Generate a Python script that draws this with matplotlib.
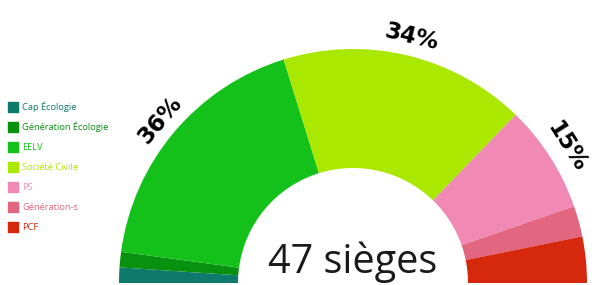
import numpy as np
import matplotlib.pyplot as plt

# groupes et sièges
partis = ['Cap Écologie', 'Génération Écologie', 'EELV', 'Société Civile',
          'PS', 'Génération-s', 'PCF']
sieges = [1, 1, 17, 16, 7, 2, 3]
couleurs = ['#0e7a6c', '#08900f', '#14c01a', '#abe800', '#f08ab5', '#e2667f', '#d6280c']
labels_pct = {2: '36%', 3: '34%', 4: '15%'}
total = sum(sieges)

fig = plt.figure(figsize=(5.92, 2.85), dpi=100)
ax = fig.add_axes([0, 0, 1, 1])

cx, cy = 353, 2
R = 234
r_in = 115

# demi-cercle : on ajoute une moitié invisible en bas
wedges, _ = ax.pie(sieges + [total], colors=couleurs + ['white'],
                   startangle=180, counterclock=False, center=(cx, cy),
                   radius=R, wedgeprops=dict(width=R - r_in, linewidth=0),
                   frame=True)
wedges[-1].set_visible(False)
ax.set_xlim(0, 592)
ax.set_ylim(0, 285)
ax.set_aspect('equal')
ax.axis('off')

# pourcentages
cum = np.cumsum([0] + sieges)
for i, txt in labels_pct.items():
    mid = (cum[i] + cum[i + 1]) / 2
    ang = 180 - mid / total * 180
    a = np.radians(ang)
    ax.text(cx + 253 * np.cos(a), cy + 253 * np.sin(a), txt,
            rotation=ang - 90, ha='center', va='center',
            fontsize=16.5, fontweight='heavy', color='black',
            rotation_mode='anchor')

ax.text(cx, 12, '47 sièges', ha='center', va='baseline', fontsize=28.5,
        family='Open Sans', color='#1a1a1a')

# légende
for i, (p, c) in enumerate(zip(partis, couleurs)):
    y = 178 - i * 20
    ax.scatter([13], [y], marker='s', s=48, color=c)
    ax.text(22, y, p, fontsize=6.7, color=c, va='center', family='Open Sans')

fig.savefig('out.png', dpi=100)
